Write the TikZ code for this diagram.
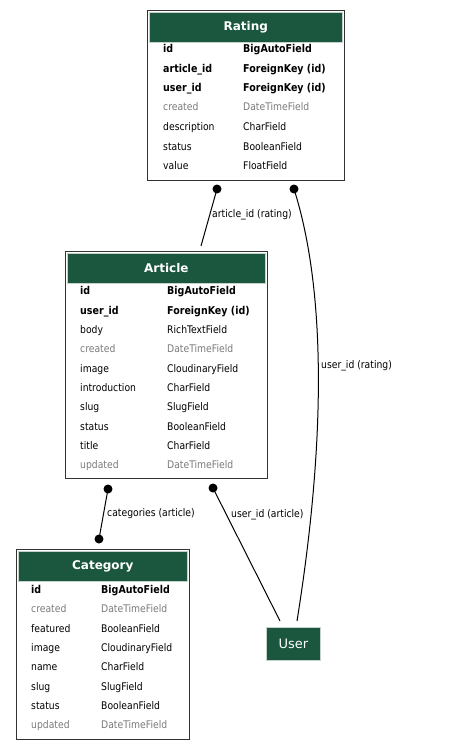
\documentclass[tikz,border=0pt]{standalone}
\usepackage{fontspec}
\setmainfont{DejaVu Sans}[FakeStretch=0.88]
\newfontfamily\titlefont{DejaVu Sans}
\definecolor{hdrgreen}{HTML}{1B563F}
\definecolor{fldgray}{HTML}{7B7B7B}
\definecolor{tblborder}{HTML}{333333}
\definecolor{hdrline}{HTML}{C4D2CA}
\tikzset{
  tbl/.style={draw=tblborder, line width=1.2pt, fill=white, anchor=north west, inner sep=0},
  hdr/.style={fill=hdrgreen, draw=hdrline, line width=0.6pt, anchor=north west, inner sep=0,
    text=white, font=\titlefont\bfseries\fontsize{12}{14}\selectfont},
  fn/.style={anchor=base west, inner sep=0, font=\fontsize{10.5}{12}\selectfont},
  fb/.style={anchor=base west, inner sep=0, font=\fontsize{10.8}{12}\selectfont\bfseries},
  fg/.style={anchor=base west, inner sep=0, font=\fontsize{10.5}{12}\selectfont, text=fldgray},
  conn/.style={line width=1pt, black},
  enddot/.style={circle, fill=black, inner sep=0, minimum size=9pt},
  elabel/.style={anchor=base west, inner sep=0, font=\fontsize{10.5}{12}\selectfont},
  userbox/.style={fill=hdrgreen, draw=hdrline, line width=0.8pt, anchor=north west, inner sep=0,
    text=white, font=\titlefont\fontsize{13}{15}\selectfont},
}
% #1 name, #2 style, #3 x1, #4 x2, #5 y, #6 field, #7 type
\newcommand{\erow}[7]{%
  \node[#2] (#1a) at (#3,#5+4) {#6};
  \node[#2] (#1b) at (#4,#5+4) {#7};}
\begin{document}
\begin{tikzpicture}[x=1pt,y=-1pt]
\useasboundingbox (0,0) rectangle (456,749);
\fill[white] (0,0) rectangle (456,749);

% ---------- Rating ----------
\node[tbl, minimum width=197pt, minimum height=170pt] (rating) at (147,10) {};
\node[hdr, minimum width=193pt, minimum height=30pt] (ratingh) at (149,12) {Rating};
\erow{r1}{fb}{163}{243}{49}{id}{BigAutoField}
\erow{r2}{fb}{163}{243}{69}{article\_id}{ForeignKey (id)}
\erow{r3}{fb}{163}{243}{88}{user\_id}{ForeignKey (id)}
\erow{r4}{fg}{163}{243}{107}{created}{DateTimeField}
\erow{r5}{fn}{163}{243}{127}{description}{CharField}
\erow{r6}{fn}{163}{243}{146}{status}{BooleanField}
\erow{r7}{fn}{163}{243}{165}{value}{FloatField}

% ---------- Article ----------
\node[tbl, minimum width=202pt, minimum height=227pt] (article) at (65,251) {};
\node[hdr, minimum width=198pt, minimum height=30pt] (articleh) at (67,253) {Article};
\erow{a1}{fb}{80}{167}{290}{id}{BigAutoField}
\erow{a2}{fb}{80}{167}{310}{user\_id}{ForeignKey (id)}
\erow{a3}{fn}{80}{167}{329}{body}{RichTextField}
\erow{a4}{fg}{80}{167}{348}{created}{DateTimeField}
\erow{a5}{fn}{80}{167}{368}{image}{CloudinaryField}
\erow{a6}{fn}{80}{167}{387}{introduction}{CharField}
\erow{a7}{fn}{80}{167}{406}{slug}{SlugField}
\erow{a8}{fn}{80}{167}{426}{status}{BooleanField}
\erow{a9}{fn}{80}{167}{445}{title}{CharField}
\erow{a10}{fg}{80}{167}{464}{updated}{DateTimeField}

% ---------- Category ----------
\node[tbl, minimum width=173pt, minimum height=190pt] (category) at (16,549) {};
\node[hdr, minimum width=169pt, minimum height=30pt] (categoryh) at (18,551) {Category};
\erow{c1}{fb}{31}{101}{589}{id}{BigAutoField}
\erow{c2}{fg}{31}{101}{608}{created}{DateTimeField}
\erow{c3}{fn}{31}{101}{628}{featured}{BooleanField}
\erow{c4}{fn}{31}{101}{647}{image}{CloudinaryField}
\erow{c5}{fn}{31}{101}{666}{name}{CharField}
\erow{c6}{fn}{31}{101}{686}{slug}{SlugField}
\erow{c7}{fn}{31}{101}{705}{status}{BooleanField}
\erow{c8}{fg}{31}{101}{724}{updated}{DateTimeField}

% ---------- User ----------
\node[userbox, minimum width=54pt, minimum height=33pt] (user) at (266,627) {User};

% ---------- connectors ----------
\node[enddot] (d1) at (217,189) {};
\node[enddot] (d2) at (294,189) {};
\node[enddot] (d3) at (108,489) {};
\node[enddot] (d4) at (99,539) {};
\node[enddot] (d5) at (213,488) {};
\coordinate (e1) at (201,246);
\coordinate (e2) at (297,621);
\coordinate (e4) at (280,621);

\draw[conn] (d1.center) -- (e1);
\draw[conn] (d2.center) .. controls (326,290) and (326,440) .. (e2);
\draw[conn] (d3.center) -- (d4.center);
\draw[conn] (d5.center) -- (e4);

\node[elabel] (l1) at (212,217) {article\_id (rating)};
\node[elabel] (l2) at (321,368) {user\_id (rating)};
\node[elabel] (l3) at (107,516) {categories (article)};
\node[elabel] (l4) at (231,517) {user\_id (article)};
\end{tikzpicture}
\end{document}
